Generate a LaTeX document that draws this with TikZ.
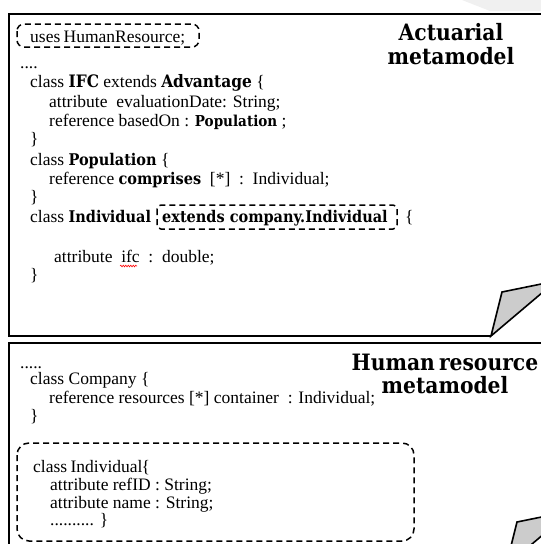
\documentclass[tikz,border=0pt]{standalone}
\usepackage{fontspec}
\setmainfont{Liberation Serif}
\newfontfamily\hb{DejaVu Serif Condensed}[UprightFont=* Bold, Scale=0.92]
\newfontfamily\hbL{DejaVu Serif Condensed}[UprightFont=* Bold, Scale=0.98]
\newfontfamily\hbS{DejaVu Serif Condensed}[UprightFont=* Bold, Scale=0.86]
\usetikzlibrary{decorations.pathmorphing}
\tikzset{
  code/.style={anchor=base west, inner sep=0pt, font=\fontsize{17.5pt}{20pt}\selectfont},
  ttl/.style={anchor=base, inner sep=0pt, font=\hb\fontsize{24.5pt}{28pt}\selectfont},
  dbox/.style={draw, line width=1.5pt, dash pattern=on 6pt off 4pt, rounded corners=#1},
  frame/.style={draw, line width=1.6pt},
  fold/.style={draw, line width=1.6pt, fill=gray!40, line join=miter}
}
\begin{document}
\begin{tikzpicture}[x=1pt,y=-1pt]
\useasboundingbox (0,0) rectangle (541,544);
% faint shape at top
\fill[gray!12] (462,0) -- (490,11) -- (541,11) -- (541,0) -- cycle;
% top frame
\draw[frame] (545,14) -- (9,14) -- (9,336) -- (491,336);
\draw[fold] (491,336) -- (502,292) -- (556,281) -- cycle;
% bottom frame
\draw[frame] (545,343) -- (9,343) -- (9,566) -- (506,566);
\draw[fold] (506,566) -- (517,522) -- (571,511) -- cycle;
% titles
\node[ttl] (t1a) at (451,40) {Actuarial};
\node[ttl] (t1b) at (451,64) {metamodel};
\node[ttl] (t2a) at (445,370) {Human\kern-3pt\ resource};
\node[ttl] (t2b) at (445,393) {metamodel};
% top code
\draw[dbox=7pt] (17,24) rectangle (199,47);
\node[code] (l1) at (30,42) {uses\kern-1pt\ HumanResource;};
\node[code] (l2) at (20,68) {....};
\node[code] (l3) at (30,87) {class {\hbL IFC} extends {\hbL Advantage} \{};
\node[code] (l4) at (49,107) {attribute\ \ evaluationDate: String;};
\node[code] (l5) at (49,126) {reference\ basedOn : {\hbS Population} ;};
\node[code] (l6) at (30,144) {\}};
\node[code] (l7) at (30,165) {class {\hb Population} \{};
\node[code] (l8) at (49,184) {reference {\hb comprises}\ \ [*]\ \ :\ \ Individual;};
\node[code] (l9) at (30,202) {\}};
\node[code] (l10) at (30,222) {class {\hb Individual}};
\draw[dbox=4pt] (157,205) rectangle (397,229);
\node[code] (l10b) at (162,222) {\hb extends company.Individual};
\node[code] (l10c) at (405,222) {\{};
\node[code] (l11) at (54,262) {attribute\ \ ifc\ \ :\ \ double;};
\draw[red, line width=0.6pt, decorate, decoration={snake, segment length=2.5pt, amplitude=0.8pt}] (120,266) -- (137,266);
\node[code] (l12) at (30,280) {\}};
% bottom code
\node[code] (m1) at (20,368) {.....};
\node[code] (m2) at (30,384) {class Company \{};
\node[code] (m3) at (49,403) {reference resources [*] container\ \ : Individual;};
\node[code] (m4) at (30,421) {\}};
\draw[dbox=12pt] (17,443) rectangle (414,541);
\node[code] (m5) at (33,472) {class\kern-1pt\ Individual\kern-1pt\{};
\node[code] (m6) at (50,490) {attribute refID : String;};
\node[code] (m7) at (50,508) {attribute name : String;};
\node[code] (m8) at (50,525) {.......... \}};
\end{tikzpicture}
\end{document}
